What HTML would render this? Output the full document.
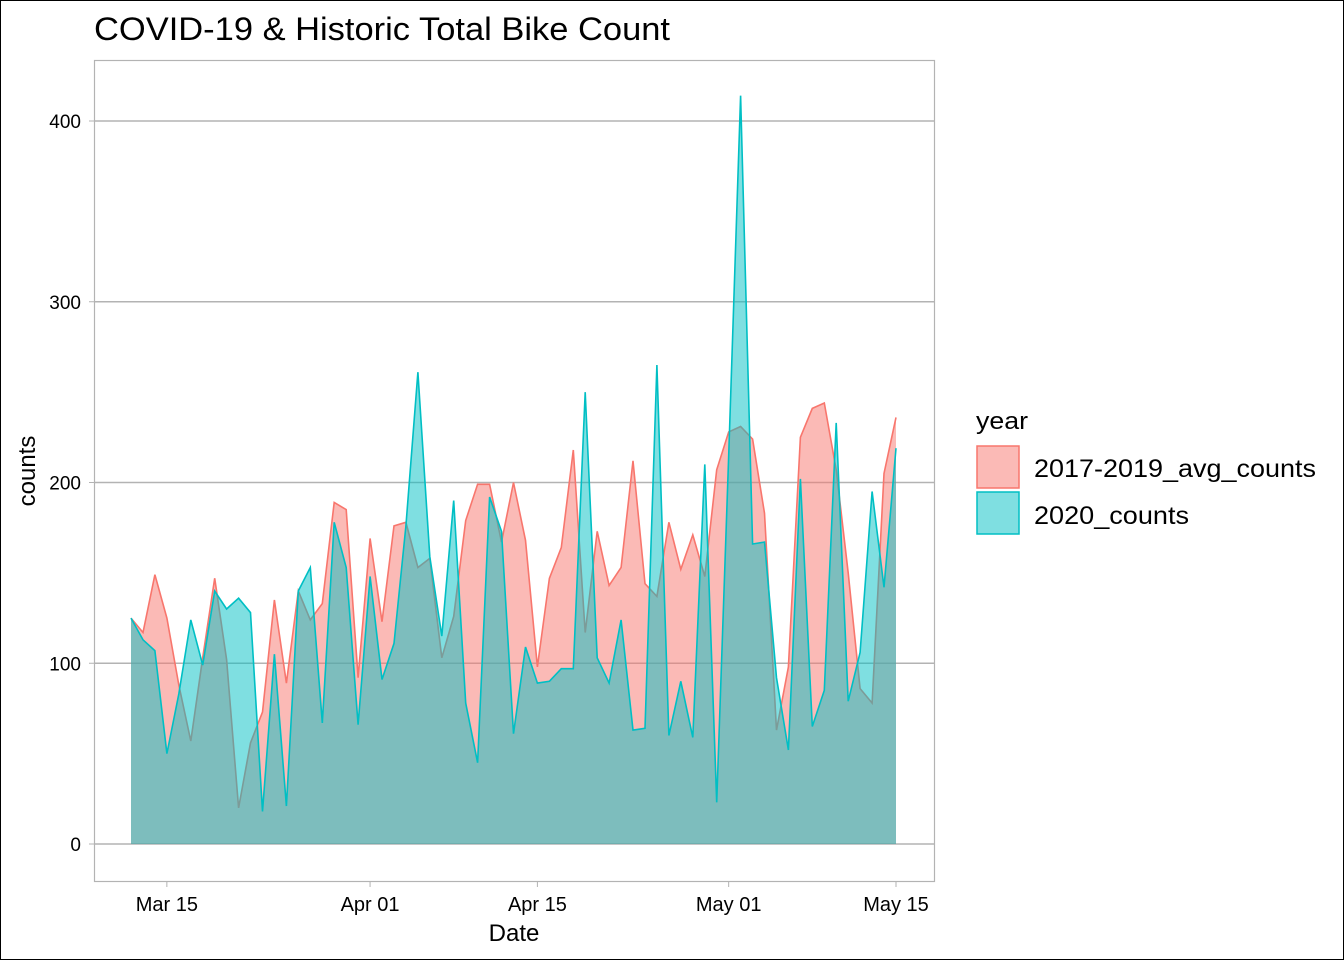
<!DOCTYPE html>
<html><head><meta charset="utf-8"><style>
html,body{margin:0;padding:0;background:#fff;}
svg{display:block;font-family:"Liberation Sans",Arial,sans-serif;}
</style></head><body>
<svg id="chart" width="1344" height="960" viewBox="0 0 1344 960">
<rect x="0.5" y="0.5" width="1343" height="959" fill="#fff" stroke="#000"/>
<text x="94" y="40" font-size="32" fill="#000" textLength="576" lengthAdjust="spacingAndGlyphs">COVID-19 &amp; Historic Total Bike Count</text>
<g id="grid"></g>
<g id="areas"></g>
<rect x="94.5" y="60.5" width="840" height="821" fill="none" stroke="#b3b3b3" stroke-width="1.2"/>
<g id="axes"></g>
<text x="514" y="941" font-size="24" text-anchor="middle">Date</text>
<text transform="translate(35,471) rotate(-90)" font-size="24" text-anchor="middle">counts</text>
<g>
<text x="976" y="429" font-size="24" textLength="52" lengthAdjust="spacingAndGlyphs">year</text>
<g>
<rect x="977" y="446" width="42" height="42" fill="#F8766D" fill-opacity="0.5" stroke="#F8766D" stroke-width="1.5"/>
<text x="1034" y="477" font-size="25" textLength="282" lengthAdjust="spacingAndGlyphs">2017-2019_avg_counts</text></g>
<g>
<rect x="977" y="492" width="42" height="42" fill="#00BFC4" fill-opacity="0.5" stroke="#00BFC4" stroke-width="1.5"/>
<text x="1034" y="524" font-size="25" textLength="155" lengthAdjust="spacingAndGlyphs">2020_counts</text></g>
</g>
</svg>
<script>
const avgCounts=[125,117,149,125,88,57,103,147,102,20,56,73,135,89,140,124,133,189,185,92,169,123,176,178,153,158,103,126,179,199,199,167,200,168,98,147,164,218,117,173,143,153,212,144,137,178,152,171,148,207,228,231,224,183,63,98,225,241,244,207,150,86,78,205,236];
const counts2020=[125,113,107,50,83,124,99,140,130,136,128,18,105,21,140,153,67,178,153,66,148,91,111,176,261,159,115,190,78,45,192,173,61,109,89,90,97,97,250,103,89,124,63,64,265,60,90,59,210,23,215,414,166,167,92,52,202,65,85,233,79,106,195,142,219];
const yTicks=[0,100,200,300,400];
const xTickDays=[3,20,34,50,64];
const xTickLabels=["Mar 15","Apr 01","Apr 15","May 01","May 15"];
const NS="http://www.w3.org/2000/svg";
function xs(d){return 131+d*(896-131)/64;}
function ys(v){return 844-v*(844-121)/400;}
const grid=document.getElementById('grid'),areas=document.getElementById('areas'),axes=document.getElementById('axes');
yTicks.forEach(t=>{
 const l=document.createElementNS(NS,'line');
 
 
 l.setAttribute('x1',95);l.setAttribute('x2',934);l.setAttribute('y1',ys(t));l.setAttribute('y2',ys(t));
 l.setAttribute('stroke','#b3b3b3');l.setAttribute('stroke-width','1.5');grid.appendChild(l);
 const tk=document.createElementNS(NS,'line');
 
 
 tk.setAttribute('x1',89);tk.setAttribute('x2',94);tk.setAttribute('y1',ys(t));tk.setAttribute('y2',ys(t));
 tk.setAttribute('stroke','#b3b3b3');axes.appendChild(tk);
 const tx=document.createElementNS(NS,'text');
 
 
 tx.setAttribute('x',81);tx.setAttribute('y',ys(t)+7);tx.setAttribute('text-anchor','end');tx.setAttribute('font-size','19');tx.setAttribute('fill','#000');
 tx.textContent=t;axes.appendChild(tx);
});
xTickDays.forEach((d,i)=>{
 const tk=document.createElementNS(NS,'line');
 
 
 tk.setAttribute('x1',xs(d));tk.setAttribute('x2',xs(d));tk.setAttribute('y1',882);tk.setAttribute('y2',887);
 tk.setAttribute('stroke','#b3b3b3');axes.appendChild(tk);
 const tx=document.createElementNS(NS,'text');
 
 
 tx.setAttribute('x',xs(d));tx.setAttribute('y',911);tx.setAttribute('text-anchor','middle');tx.setAttribute('font-size','20');
 tx.textContent=xTickLabels[i];axes.appendChild(tx);
});
function area(vals,color,name){
 let pts=vals.map((v,i)=>xs(i).toFixed(1)+','+ys(v).toFixed(1));
 const poly=document.createElementNS(NS,'polygon');
 
 
 poly.setAttribute('points',xs(0)+','+ys(0)+' '+pts.join(' ')+' '+xs(vals.length-1)+','+ys(0));
 poly.setAttribute('fill',color);poly.setAttribute('fill-opacity','0.5');areas.appendChild(poly);
 const line=document.createElementNS(NS,'polyline');
 
 
 line.setAttribute('points',pts.join(' '));line.setAttribute('fill','none');line.setAttribute('stroke',color);line.setAttribute('stroke-width','1.6');
 areas.appendChild(line);
}
area(avgCounts,'#F8766D','avg-2017-2019');
area(counts2020,'#00BFC4','counts-2020');
</script>
</body></html>
